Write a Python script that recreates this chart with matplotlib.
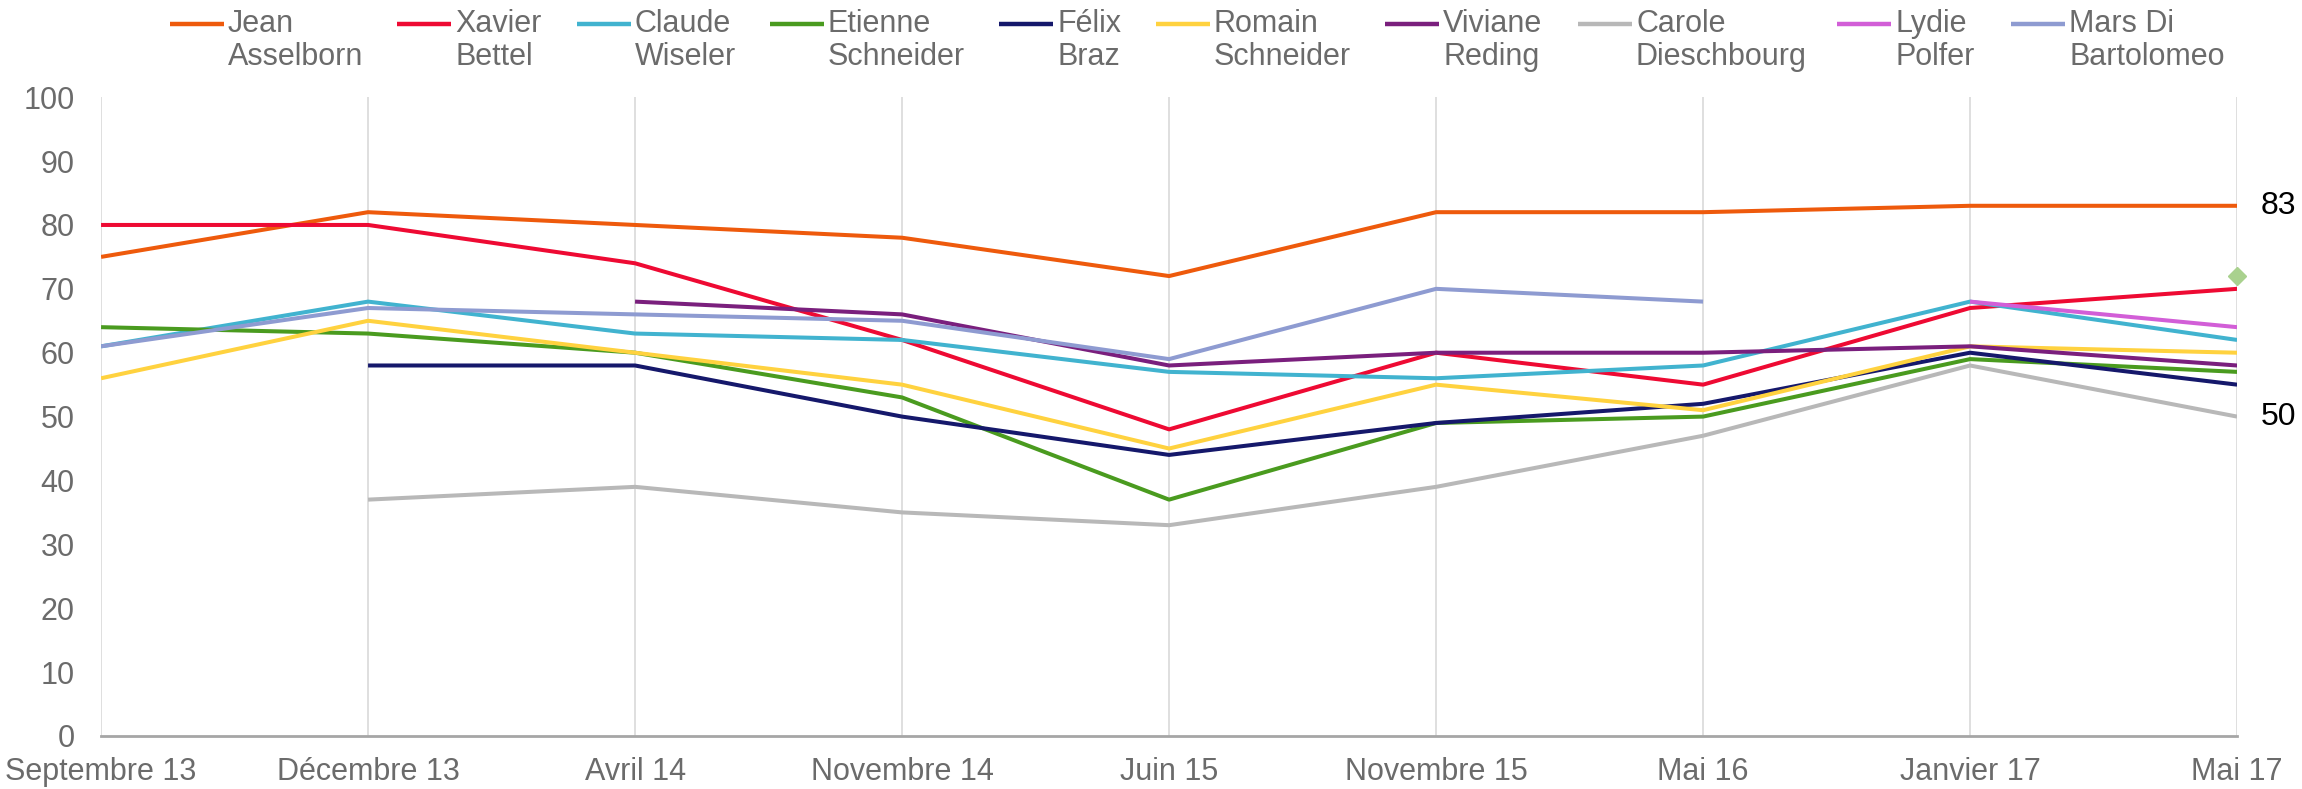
import numpy as np
import matplotlib
matplotlib.use("Agg")
from matplotlib import pyplot as plt
from matplotlib.lines import Line2D

plt.rcParams['font.family'] = ['Liberation Sans', 'DejaVu Sans']

nan = np.nan

dates = ["Septembre 13", "Décembre 13", "Avril 14", "Novembre 14", "Juin 15",
         "Novembre 15", "Mai 16", "Janvier 17", "Mai 17"]

names = ["Jean\nAsselborn", "Xavier\nBettel", "Claude\nWiseler", "Etienne\nSchneider",
         "Félix\nBraz", "Romain\nSchneider", "Viviane\nReding", "Carole\nDieschbourg",
         "Lydie\nPolfer", "Mars Di\nBartolomeo"]

asselborn = [75, 82, 80, 78, 72, 82, 82, 83, 83]
bettel = [80, 80, 74, 62, 48, 60, 55, 67, 70]
wiseler = [61, 68, 63, 62, 57, 56, 58, 68, 62]
e_schneider = [64, 63, 60, 53, 37, 49, 50, 59, 57]
braz = [nan, 58, 58, 50, 44, 49, 52, 60, 55]
r_schneider = [56, 65, 60, 55, 45, 55, 51, 61, 60]
reding = [nan, nan, 68, 66, 58, 60, 60, 61, 58]
dieschbourg = [nan, 37, 39, 35, 33, 39, 47, 58, 50]
polfer = [nan, nan, nan, nan, nan, nan, nan, 68, 64]
di_bartolomeo = [61, 67, 66, 65, 59, 70, 68, nan, nan]

series = [asselborn, bettel, wiseler, e_schneider, braz,
          r_schneider, reding, dieschbourg, polfer, di_bartolomeo]
colors = ["#EE5A0C", "#EE0A33", "#41B3CF", "#4A9B1F", "#15186B",
          "#FFD23F", "#7A1F7D", "#B8B8B8", "#D25ED7", "#8E9BD1"]

# single extra point shown at the last date
extra_val = 72
extra_color = "#A9D18E"

# values labelled at the right end
end_labels = [83, 50]

txt_gray = "#6B6B6B"
fs = 22

fig = plt.figure(figsize=(23.02, 7.89), dpi=100)
ax = fig.add_axes([0.0439, 0.0672, 0.9279, 0.8096])

x = np.arange(len(dates))
for vals, c in zip(series, colors):
    ax.plot(x, vals, color=c, lw=2.9, solid_capstyle='butt', zorder=3)
ax.plot([x[-1]], [extra_val], marker='D', ms=9, color=extra_color, ls='none',
        zorder=4, clip_on=False)

for v in end_labels:
    ax.annotate(str(v), (x[-1], v), xytext=(17, 0), textcoords='offset points',
                va='center', ha='left', fontsize=fs + 1, color='black')

ax.set_xlim(0, len(dates) - 1)
ax.set_ylim(0, 100)
ax.set_yticks(np.arange(0, 101, 10))
ax.set_xticks(x)
ax.set_xticklabels(dates)
ax.tick_params(axis='both', length=0, labelsize=fs, labelcolor=txt_gray)
ax.tick_params(axis='y', pad=19)
ax.tick_params(axis='x', pad=15)
ax.grid(axis='x', color='#D9D9D9', lw=1.2)
ax.grid(axis='y', visible=False)
for s in ['top', 'right', 'left']:
    ax.spines[s].set_visible(False)
ax.spines['bottom'].set_color('#A6A6A6')
ax.spines['bottom'].set_linewidth(2)
ax.spines['bottom'].set_zorder(5)

# legend drawn by hand so that the handle sits on the first line
W, H = fig.get_size_inches() * fig.dpi
handle_x = [170, 397, 577, 770, 999, 1156, 1385, 1578, 1837, 2011]
for name, c, hx in zip(names, colors, handle_x):
    l1, l2 = name.split("\n")
    fig.add_artist(Line2D([hx / W, (hx + 54) / W], [1 - 24 / H, 1 - 24 / H],
                          color=c, lw=3.2, solid_capstyle='butt'))
    fig.text((hx + 58) / W, 1 - 24 / H, l1, fontsize=fs, color=txt_gray, va='center')
    fig.text((hx + 58) / W, 1 - 57 / H, l2, fontsize=fs, color=txt_gray, va='center')

fig.savefig("out.png", dpi=100)
